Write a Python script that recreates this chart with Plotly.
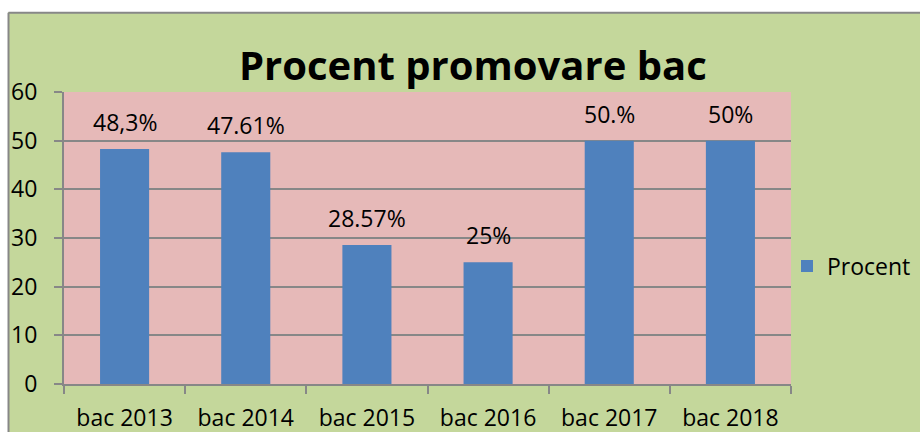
import plotly.graph_objects as go

categories = ["bac 2013", "bac 2014", "bac 2015", "bac 2016", "bac 2017", "bac 2018"]
values = [48.3, 47.61, 28.57, 25, 50, 50]
labels = ["48,3%", "47.61%", "28.57%", "25%", "50.%", "50%"]
series_name = "Procent"
title_text = "Procent promovare bac"
y_ticks = [0, 10, 20, 30, 40, 50, 60]

GREEN = "#c4d79b"
PINK = "#e6b9b8"
BLUE = "#4f81bd"
GRAY = "#878787"
FONT = "Open Sans"

W, H = 920, 432
L, R, T, B = 64, 129, 92, 48
pw = W - L - R
ph = H - T - B

def px_x(X):
    return (X - L) / pw

def px_y(Y):
    return (H - B - Y) / ph

fig = go.Figure()
fig.add_trace(go.Bar(
    x=categories, y=values, name=series_name,
    marker=dict(color=BLUE, line=dict(width=0)),
    showlegend=True, hoverinfo="skip",
))

annotations = []
for c, v, t in zip(categories, values, labels):
    annotations.append(dict(
        x=c, y=v, xref="x", yref="y", text=t, showarrow=False,
        yshift=27, font=dict(family=FONT, size=23, color="#000000"),
    ))
annotations.append(dict(
    x=px_x(473), y=px_y(64), xref="paper", yref="paper",
    text="<b>" + title_text + "</b>", showarrow=False,
    xanchor="center", yanchor="middle",
    font=dict(family=FONT, size=40, color="#000000"),
))

shapes = [
    dict(type="rect", xref="paper", yref="paper", layer="above",
         x0=px_x(-5), x1=px_x(W + 5), y0=px_y(12), y1=px_y(-5),
         fillcolor="white", line=dict(width=0)),
    dict(type="rect", xref="paper", yref="paper", layer="above",
         x0=px_x(-5), x1=px_x(8), y0=px_y(H + 5), y1=px_y(-5),
         fillcolor="white", line=dict(width=0)),
    dict(type="line", xref="paper", yref="paper", layer="above",
         x0=px_x(8.5), x1=px_x(W + 5), y0=px_y(12.7), y1=px_y(12.7),
         line=dict(color=GRAY, width=2)),
    dict(type="line", xref="paper", yref="paper", layer="above",
         x0=px_x(8.5), x1=px_x(8.5), y0=px_y(12.7), y1=px_y(H + 5),
         line=dict(color=GRAY, width=2)),
]

fig.update_layout(
    width=W, height=H,
    margin=dict(l=L, r=R, t=T, b=B, pad=0, autoexpand=False),
    paper_bgcolor=GREEN, plot_bgcolor=PINK,
    font=dict(family=FONT, size=23, color="#000000"),
    bargap=0.595,
    annotations=annotations,
    shapes=shapes,
    hovermode=False,
    legend=dict(x=px_x(787), y=px_y(266), xanchor="left", yanchor="middle",
                bgcolor="rgba(0,0,0,0)", font=dict(family=FONT, size=23)),
    xaxis=dict(
        automargin=False,
        showline=True, linecolor=GRAY, linewidth=2,
        ticks="outside", ticklen=8, tickcolor=GRAY, tickwidth=2,
        tickson="boundaries", showgrid=False,
        ticklabelstandoff=12,
        tickfont=dict(family=FONT, size=23),
    ),
    yaxis=dict(
        automargin=False,
        range=[0, 60], tickvals=y_ticks,
        showline=True, linecolor=GRAY, linewidth=2,
        ticks="outside", ticklen=8, tickcolor=GRAY, tickwidth=2,
        showgrid=True, gridcolor=GRAY, gridwidth=1.5,
        zeroline=False,
        ticklabelstandoff=12,
        tickfont=dict(family=FONT, size=23),
    ),
)

fig.write_html(
    "out.html",
    config={"displayModeBar": False},
    post_script="document.body.style.margin='0';document.body.style.overflow='hidden';",
)
